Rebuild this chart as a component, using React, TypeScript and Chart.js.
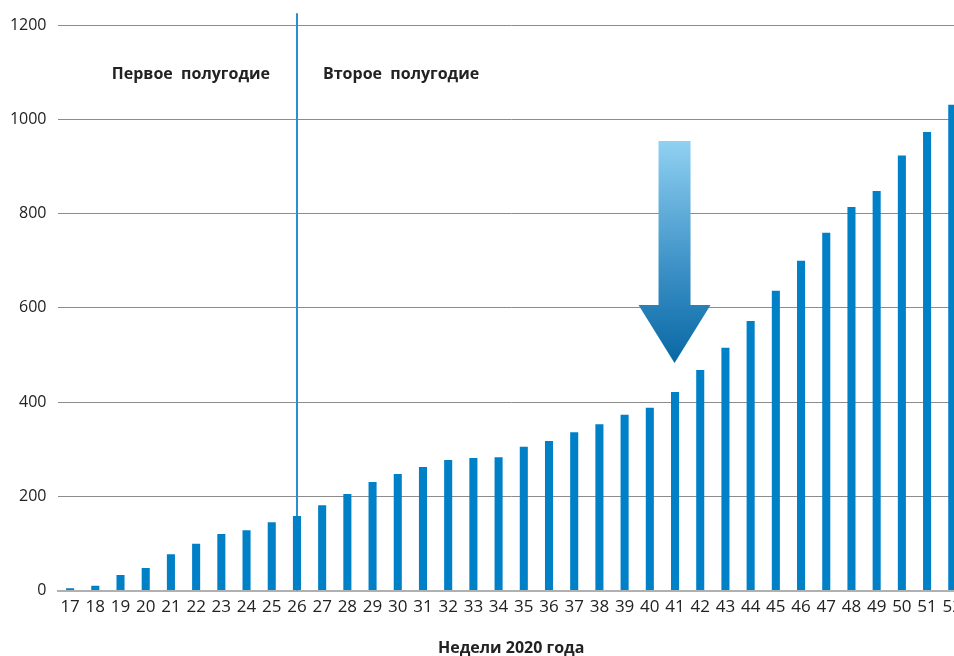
import { useEffect, useRef } from 'react';
import { Chart, registerables } from 'chart.js';

Chart.register(...registerables);

const weeks = ['17','18','19','20','21','22','23','24','25','26','27','28','29','30','31','32','33','34','35','36','37','38','39','40','41','42','43','44','45','46','47','48','49','50','51','52'];
const values = [5,10,33,48,77,99,120,128,145,158,181,205,230,247,262,277,281,283,305,317,336,353,373,388,421,468,515,572,636,700,759,814,848,923,973,1031];
const yTicks = [0, 200, 400, 600, 800, 1000, 1200];
const halfLabels = ['Первое  полугодие', 'Второе  полугодие'];
const xTitle = 'Недели 2020 года';
const dividerWeek = '26';
const dividerTopValue = 1225;
const labelValue = 1096;
const arrowWeek = '41';
const arrowTopValue = 954;
const arrowHeadValue = 606;
const arrowTipValue = 483;

const FONT = '"Open Sans", "Noto Sans", sans-serif';

const overlay = {
  id: 'overlay',
  beforeDatasetsDraw(chart: any) {
    const { ctx, scales } = chart;
    const x = scales.x, y = scales.y;
    const lx = Math.round(x.getPixelForValue(weeks.indexOf(dividerWeek)));
    ctx.save();
    ctx.strokeStyle = '#2a8fd0';
    ctx.lineWidth = 2;
    ctx.beginPath();
    ctx.moveTo(lx, y.getPixelForValue(dividerTopValue));
    ctx.lineTo(lx, y.getPixelForValue(0));
    ctx.stroke();
    ctx.font = `bold 16px ${FONT}`;
    ctx.fillStyle = '#222222';
    ctx.textBaseline = 'middle';
    const ty = y.getPixelForValue(labelValue);
    ctx.textAlign = 'right';
    ctx.fillText(halfLabels[0], lx - 27, ty);
    ctx.textAlign = 'left';
    ctx.fillText(halfLabels[1], lx + 26, ty);
    ctx.restore();
  },
  afterDatasetsDraw(chart: any) {
    const { ctx, scales } = chart;
    const x = scales.x, y = scales.y;
    const cx = x.getPixelForValue(weeks.indexOf(arrowWeek)) - 0.5;
    const top = y.getPixelForValue(arrowTopValue);
    const head = y.getPixelForValue(arrowHeadValue);
    const tip = y.getPixelForValue(arrowTipValue);
    const sw = 16, hw = 36;
    const g = ctx.createLinearGradient(0, top, 0, tip);
    g.addColorStop(0, '#90d1f2');
    g.addColorStop(0.55, '#3f93c8');
    g.addColorStop(1, '#0868a4');
    ctx.save();
    ctx.fillStyle = g;
    ctx.beginPath();
    ctx.moveTo(cx - sw, top);
    ctx.lineTo(cx + sw, top);
    ctx.lineTo(cx + sw, head);
    ctx.lineTo(cx + hw, head);
    ctx.lineTo(cx, tip);
    ctx.lineTo(cx - hw, head);
    ctx.lineTo(cx - sw, head);
    ctx.closePath();
    ctx.fill();
    ctx.restore();
  },
};

export default function App() {
  const ref = useRef<HTMLCanvasElement>(null);
  useEffect(() => {
    if (!ref.current) return;
    const chart = new Chart(ref.current, {
      type: 'bar',
      data: {
        labels: weeks,
        datasets: [{
          data: values,
          backgroundColor: '#0080c6',
          barPercentage: 0.64,
          categoryPercentage: 0.5,
        }],
      },
      options: {
        animation: false,
        responsive: true,
        maintainAspectRatio: false,
        layout: { padding: { top: 25, left: 0, right: 0, bottom: 0 } },
        plugins: { legend: { display: false }, tooltip: { enabled: false } },
        scales: {
          x: {
            grid: { display: false, drawTicks: false },
            border: { display: true, color: '#b0b0b0', width: 2 },
            ticks: { color: '#222222', font: { family: FONT, size: 17 }, padding: 6, maxRotation: 0, autoSkip: false },
            title: { display: true, text: xTitle, color: '#222222', font: { family: FONT, size: 16, weight: 'bold', lineHeight: 1 }, padding: { top: 0, bottom: 0 } },
            afterFit: (s: any) => { s.height = 65.5; },
          },
          y: {
            min: 0,
            max: 1200,
            afterBuildTicks: (s: any) => { s.ticks = yTicks.map((v) => ({ value: v })); },
            grid: { color: (c: any) => (c.tick && c.tick.value === 0 ? 'rgba(0,0,0,0)' : '#8c8c8c'), drawTicks: false, lineWidth: 1 },
            border: { display: false },
            ticks: { color: '#222222', font: { family: FONT, size: 16 }, padding: 11, callback: (v: any) => String(v) },
            afterFit: (s: any) => { s.width = 57.5; },
          },
        },
      },
      plugins: [overlay],
    });
    return () => chart.destroy();
  }, []);
  return (
    <div style={{ position: 'fixed', left: 0, top: 0, width: 954, height: 656, overflow: 'hidden', background: '#fff' }}>
      <div style={{ position: 'relative', width: 968, height: 656 }}>
        <canvas ref={ref} />
      </div>
    </div>
  );
}
